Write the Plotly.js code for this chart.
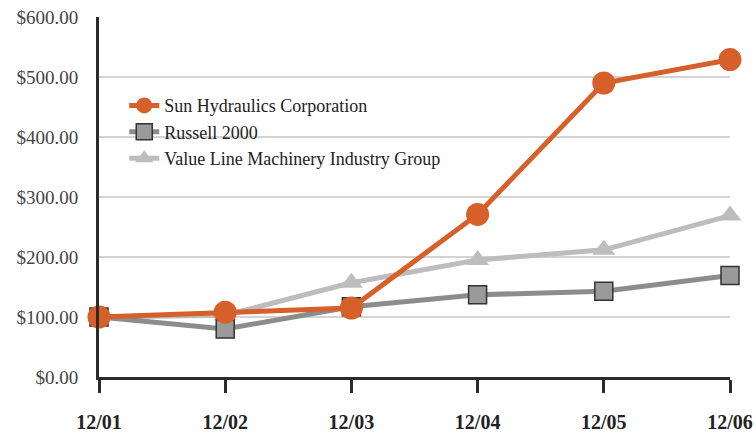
<!DOCTYPE html>
<html>
<head>
<meta charset="utf-8">
<script src="https://cdn.plot.ly/plotly-3.0.1.min.js"></script>
<style>html,body{margin:0;padding:0;background:#fff;}#chart{width:756px;height:433px;}</style>
</head>
<body>
<div id="chart"></div>
<script>
const periods = ["12/01", "12/02", "12/03", "12/04", "12/05", "12/06"];
const sunHydraulics = [100, 108, 115, 271, 490, 529];
const russell2000 = [100, 80, 117, 137, 143, 169];
const valueLine = [100, 103, 157, 195, 212, 269];
const yTickVals = [0, 100, 200, 300, 400, 500, 600];
const yTickText = ["$0.00", "$100.00", "$200.00", "$300.00", "$400.00", "$500.00", "$600.00"];

const xIdx = periods.map((_, i) => i);

const traces = [
  {
    name: "Value Line Machinery Industry Group",
    x: xIdx, y: valueLine, mode: "lines+markers", cliponaxis: false,
    line: {color: "#bdbdbd", width: 5},
    marker: {symbol: "triangle-up", size: 20, color: "#bdbdbd"},
    legendrank: 3
  },
  {
    name: "Russell 2000",
    x: xIdx, y: russell2000, mode: "lines+markers", cliponaxis: false,
    line: {color: "#8c8c8c", width: 5},
    marker: {symbol: "square", size: 18, color: "#9a9a9a", line: {color: "#333", width: 1.5}},
    legendrank: 2
  },
  {
    name: "Sun Hydraulics Corporation",
    x: xIdx, y: sunHydraulics, mode: "lines+markers", cliponaxis: false,
    line: {color: "#d65f2a", width: 5},
    marker: {symbol: "circle", size: 23, color: "#d65f2a"},
    legendrank: 1
  }
];

const layout = {
  width: 756, height: 433,
  margin: {l: 99, r: 26, t: 17, b: 56},
  paper_bgcolor: "#fff", plot_bgcolor: "#fff",
  font: {family: "Liberation Serif", color: "#333", size: 19},
  showlegend: true,
  legend: {
    x: 0.04, y: 0.805, xanchor: "left", yanchor: "top",
    bgcolor: "rgba(255,255,255,0)",
    font: {family: "Liberation Serif", size: 18, color: "#222"},
    tracegroupgap: 0, itemwidth: 30
  },
  xaxis: {
    tickmode: "array", tickvals: xIdx, ticktext: periods,
    range: [0, 5], showgrid: false, zeroline: false,
    showline: true, linecolor: "#2b2b2b", linewidth: 3,
    ticks: "outside", ticklen: 13, tickwidth: 3, tickcolor: "#2b2b2b",
    ticklabelstandoff: 12,
    tickfont: {family: "Liberation Serif", size: 20, color: "#222", weight: "bold"},
    fixedrange: true
  },
  yaxis: {
    tickmode: "array", tickvals: yTickVals, ticktext: yTickText,
    range: [0, 600], showgrid: true, gridcolor: "#d3d3d3", gridwidth: 2,
    zeroline: false, showline: true, linecolor: "#2b2b2b", linewidth: 3,
    ticks: "", ticklabelstandoff: 14,
    tickfont: {family: "Liberation Serif", size: 19, color: "#444"},
    fixedrange: true
  }
};

Plotly.newPlot("chart", traces, layout, {displayModeBar: false, staticPlot: true});
</script>
</body>
</html>
